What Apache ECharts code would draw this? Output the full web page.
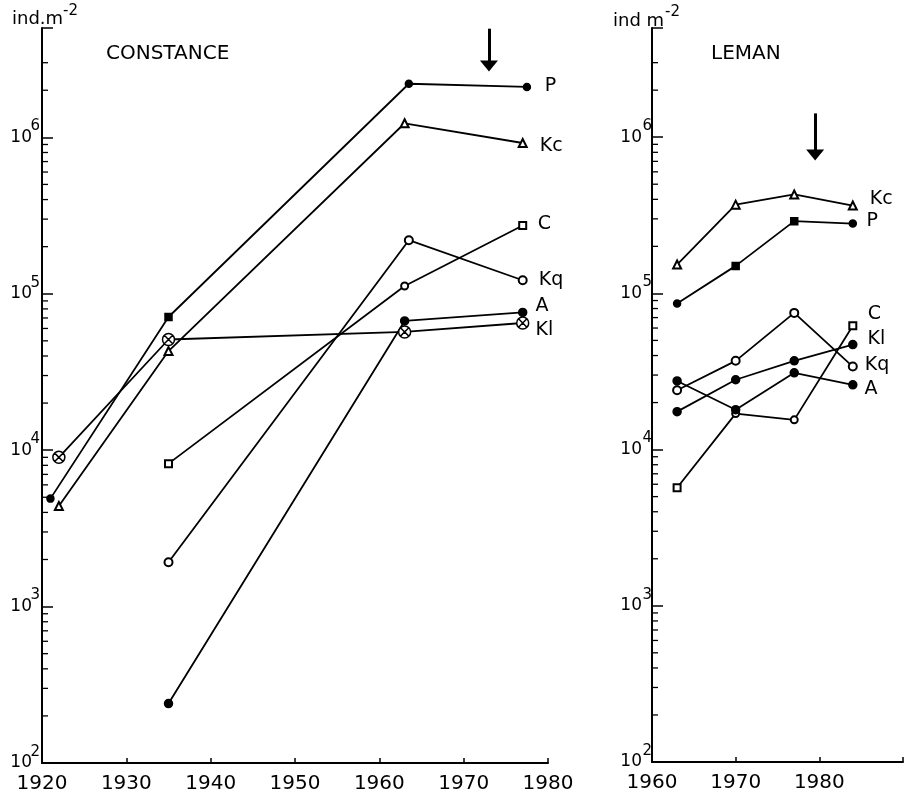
<!DOCTYPE html>
<html><head><meta charset="utf-8">
<script src="https://cdn.jsdelivr.net/npm/echarts@6/dist/echarts.min.js"></script>
<style>html,body{margin:0;padding:0;background:#fff}#c{width:913px;height:798px}</style>
</head><body><div id="c"></div>
<script>
// ---------- DATA: Lake Constance (ind. m^-2) ----------
const constanceYearsP  = [1921, 1935, 1963.5, 1977.5];
const constanceP       = [4900, 71000, 2200000, 2100000];
const constanceYearsKc = [1922, 1935, 1963, 1977];
const constanceKc      = [4400, 43000, 1230000, 920000];
const constanceYearsC  = [1935, 1963, 1977];
const constanceC       = [8200, 112000, 273000];
const constanceYearsKq = [1935, 1963.5, 1977];
const constanceKq      = [1920, 220000, 122000];
const constanceYearsA  = [1935, 1963, 1977];
const constanceA       = [240, 67000, 76000];
const constanceYearsKl = [1922, 1935, 1963, 1977];
const constanceKl      = [9000, 51000, 57000, 65000];

// ---------- DATA: Lake Leman (ind. m^-2) ----------
const lemanYears = [1963, 1970, 1977, 1984];
const lemanKc = [153000, 370000, 430000, 365000];
const lemanP  = [86000, 150000, 290000, 280000];
const lemanC  = [5700, 17000, 15500, 62000];
const lemanKq = [24000, 37000, 75000, 34000];
const lemanA  = [27500, 18000, 31000, 26000];
const lemanKl = [17500, 28000, 37000, 47000];

// ---------- AXES / TICKS ----------
const constanceXTicks = [1920, 1930, 1940, 1950, 1960, 1970, 1980];
const lemanXTicks = [1960, 1970, 1980, 1990];
const yMin = 100, yMax = 5000000;
const minorTicks = [200,300,400,500,600,700,800,900,
  2000,3000,4000,5000,6000,7000,8000,9000,
  20000,30000,40000,50000,60000,70000,80000,90000,
  200000,300000,400000,500000,600000,700000,800000,900000,
  2000000,3000000];
const arrowConstanceYear = 1973, arrowLemanYear = 1979.5;

// ---------- STYLES ----------
const FONT = 'DejaVu Sans';
const CROSS = 'path://M0,-10A10,10 0 1,1 0,10A10,10 0 1,1 0,-10ZM-7,-7L7,7M7,-7L-7,7';
const symStyle = {
  P:  {symbol:'circle', size:7},
  Kc: {symbol:'emptyTriangle', size:8},
  C:  {symbol:'emptyRect', size:7},
  Kq: {symbol:'emptyCircle', size:8},
  A:  {symbol:'circle', size:8},
  KlX:{symbol:CROSS, size:12, cross:true},
  KlDot:{symbol:'circle', size:8}
};
const overrides = {
  constance: {P:{1:'rect'}, C:{1:'emptyCircle'}},
  leman: {P:{1:'rect',2:'rect'}, C:{1:'emptyCircle',2:'emptyCircle'}}
};
const labelPos = {
  constance: {P:[17,-1], Kc:[16,3], C:[14,-1], Kq:[15,0], A:[12,-6], Kl:[12,7]},
  leman: {Kc:[16,-6], P:[13,-2], C:[14,-12], Kl:[14,-6], Kq:[11,-2], A:[11,4]}
};

function lineSeries(panel, name, xs, ys, gi, styleKey) {
  const st = symStyle[styleKey];
  const ov = (overrides[panel] || {})[name] || {};
  const lp = labelPos[panel][name];
  const data = xs.map((x, i) => {
    const item = {value: [x, ys[i]]};
    if (ov[i]) { item.symbol = ov[i]; item.itemStyle = {color:'#000', borderColor:'#000'}; }
    if (i === xs.length - 1) {
      item.label = {show:true, formatter:name, position:'right', distance:0,
        offset:[lp[0] - st.size/2, lp[1]], color:'#000', fontSize:19, fontFamily:FONT};
    }
    return item;
  });
  return {
    type:'line', name, xAxisIndex:gi, yAxisIndex:gi*2, data,
    symbol: st.symbol, symbolSize: st.size, showAllSymbol:true,
    lineStyle:{color:'#000', width:1.8},
    itemStyle: st.cross ? {color:'#fff', borderColor:'#000', borderWidth:1.5}
                        : {color:'#000', borderColor:'#000', borderWidth:1.5},
    emphasis:{disabled:true}, z:3
  };
}

function minorTickSeries(gi, x0) {
  return {
    type:'custom', xAxisIndex:gi, yAxisIndex:gi*2, silent:true, z:4,
    data: minorTicks.map(v => [x0, v]),
    renderItem: function (params, api) {
      const p = api.coord([api.value(0), api.value(1)]);
      return {type:'line', shape:{x1:p[0], y1:p[1], x2:p[0] + 6, y2:p[1]},
              style:{stroke:'#000', lineWidth:1.3}};
    }
  };
}

function decade(v) {
  const e = Math.log10(v), r = Math.round(e);
  return Math.abs(e - r) > 1e-6 ? null : r;
}
function yAxisMain(gi, margin) {
  return {type:'log', logBase:10, gridIndex:gi, position:'left', min:yMin, max:yMax,
    axisLine:{show:true, onZero:false, lineStyle:{color:'#000', width:2}},
    axisTick:{show:true, inside:true, length:11, lineStyle:{color:'#000', width:1.5}},
    splitLine:{show:false}, minorTick:{show:false},
    axisLabel:{margin, color:'#000', fontSize:17, fontFamily:FONT,
      formatter: v => (decade(v) === null ? '' : '10')}};
}
function yAxisExp(gi, margin) {
  return {type:'log', logBase:10, gridIndex:gi, position:'left', min:yMin, max:yMax,
    axisLine:{show:false}, axisTick:{show:false}, splitLine:{show:false},
    axisLabel:{margin, color:'#000', fontSize:15, fontFamily:FONT, lineHeight:22,
      formatter: v => { const r = decade(v); return r === null ? '' : String(r) + '\n '; }}};
}
function xAxis(gi, ticks, labelled) {
  return {type:'value', gridIndex:gi, min:ticks[0], max:ticks[ticks.length-1], interval:10,
    axisLine:{onZero:false, lineStyle:{color:'#000', width:2}},
    axisTick:{inside:true, length:5, lineStyle:{color:'#000', width:1.5}},
    splitLine:{show:false},
    axisLabel:{color:'#000', fontSize:20, fontFamily:FONT, margin:11,
      formatter: v => (labelled(v) ? String(v) : '')}};
}
function arrow(year, y1, y2) {
  return {silent:true, symbol:['none','triangle'], label:{show:false},
    lineStyle:{color:'#000', width:3, type:'solid'},
    data:[[{coord:[year, y1], symbol:'none'}, {coord:[year, y2], symbol:'triangle', symbolSize:[18,11]}]]};
}
const txt = (size) => ({fontSize:size, fontWeight:'normal', fontFamily:FONT, color:'#000'});

const chart = echarts.init(document.getElementById('c'), null, {renderer:'canvas'});
const pC = lineSeries('constance','P', constanceYearsP, constanceP, 0, 'P');
pC.markLine = arrow(arrowConstanceYear, 4950000, 2860000);
const pL = lineSeries('leman','P', lemanYears, lemanP, 1, 'P');
pL.markLine = arrow(arrowLemanYear, 1420000, 770000);

chart.setOption({
  animation:false,
  backgroundColor:'#fff',
  title:[
    {text:'ind.m', left:12, top:10, padding:0, textStyle:txt(18)},
    {text:'-2', left:63, top:4, padding:0, textStyle:txt(15)},
    {text:'CONSTANCE', left:106, top:44, padding:0, textStyle:txt(20)},
    {text:'ind m', left:613, top:12, padding:0, textStyle:txt(18)},
    {text:'-2', left:665, top:5, padding:0, textStyle:txt(15)},
    {text:'LEMAN', left:711, top:44, padding:0, textStyle:txt(20)}
  ],
  grid:[
    {left:42, top:28, width:506, height:735},
    {left:652, top:28, width:251, height:734}
  ],
  xAxis:[
    xAxis(0, constanceXTicks, v => constanceXTicks.indexOf(v) >= 0),
    xAxis(1, lemanXTicks, v => v < 1990)
  ],
  yAxis:[yAxisMain(0, 10), yAxisExp(0, 2), yAxisMain(1, 10), yAxisExp(1, 0)],
  series:[
    pC,
    lineSeries('constance','Kc', constanceYearsKc, constanceKc, 0, 'Kc'),
    lineSeries('constance','C', constanceYearsC, constanceC, 0, 'C'),
    lineSeries('constance','Kq', constanceYearsKq, constanceKq, 0, 'Kq'),
    lineSeries('constance','A', constanceYearsA, constanceA, 0, 'A'),
    lineSeries('constance','Kl', constanceYearsKl, constanceKl, 0, 'KlX'),
    pL,
    lineSeries('leman','Kc', lemanYears, lemanKc, 1, 'Kc'),
    lineSeries('leman','C', lemanYears, lemanC, 1, 'C'),
    lineSeries('leman','Kq', lemanYears, lemanKq, 1, 'Kq'),
    lineSeries('leman','A', lemanYears, lemanA, 1, 'A'),
    lineSeries('leman','Kl', lemanYears, lemanKl, 1, 'KlDot'),
    minorTickSeries(0, 1920),
    minorTickSeries(1, 1960)
  ]
});
</script></body></html>
